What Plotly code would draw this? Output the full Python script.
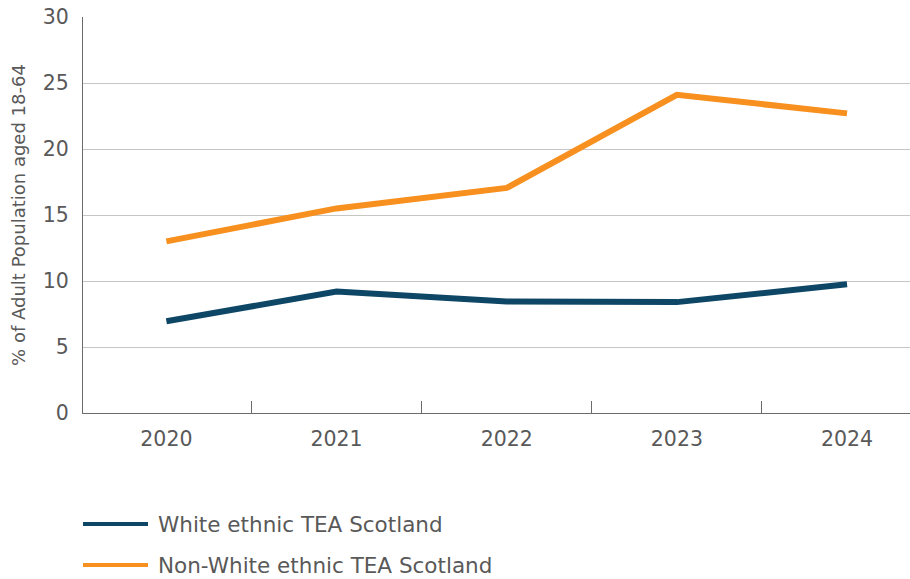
import plotly.graph_objects as go

years = ["2020", "2021", "2022", "2023", "2024"]
white_tea = [6.95, 9.2, 8.45, 8.4, 9.75]
nonwhite_tea = [13.0, 15.5, 17.05, 24.1, 22.7]
series_names = ["White ethnic TEA Scotland", "Non-White ethnic TEA Scotland"]
colors = ["#0e4666", "#f7901e"]
y_title = "% of Adult Population aged 18-64"

FONT = "DejaVu Sans"
TXT = "#595959"

fig = go.Figure()
for vals, name, col in zip([white_tea, nonwhite_tea], series_names, colors):
    fig.add_trace(go.Scatter(x=years, y=vals, mode="lines", name=name,
                             line=dict(color=col, width=6), showlegend=False,
                             hoverinfo="skip"))

W, H = 910, 579
ml, mr, mt, mb = 83, 0, 17, 166
pw = W - ml - mr
ph = H - mt - mb

def px_to_paper_y(py):
    return (H - mb - py) / ph

def px_to_paper_x(px):
    return (px - ml) / pw

leg_y = [524, 565]
for name, col, py in zip(series_names, colors, leg_y):
    yy = px_to_paper_y(py)
    fig.add_shape(type="line", xref="paper", yref="paper",
                  x0=px_to_paper_x(83), x1=px_to_paper_x(148), y0=yy, y1=yy,
                  line=dict(color=col, width=4))
    fig.add_annotation(xref="paper", yref="paper", x=px_to_paper_x(156), y=yy,
                       text=name, showarrow=False, xanchor="left", yanchor="middle",
                       font=dict(family=FONT, size=21.5, color=TXT))

fig.update_layout(
    width=W, height=H,
    margin=dict(l=ml, r=mr, t=mt, b=mb),
    plot_bgcolor="white", paper_bgcolor="white",
    font=dict(family=FONT, color=TXT),
    xaxis=dict(type="category", range=[-0.49, 4.37], tickson="boundaries",
               ticks="inside", ticklen=12, tickcolor="#6b6b6b", tickwidth=1,
               showline=True, linecolor="#6b6b6b", linewidth=1,
               ticklabelstandoff=7,
               showgrid=False, tickfont=dict(family=FONT, size=20.5, color=TXT)),
    yaxis=dict(range=[0, 30], dtick=5, showline=True, linecolor="#6b6b6b", linewidth=1,
               gridcolor="#c6c6c6", gridwidth=1, zeroline=False, ticks="",
               ticklabelstandoff=9,
               tickfont=dict(family=FONT, size=20.5, color=TXT),
               title=dict(text=y_title, standoff=12,
                          font=dict(family=FONT, size=18, color=TXT))),
)

fig.write_html("out.html", config={"displayModeBar": False},
               post_script="document.body.style.margin='0';document.body.style.padding='0';document.body.style.overflow='hidden';")
